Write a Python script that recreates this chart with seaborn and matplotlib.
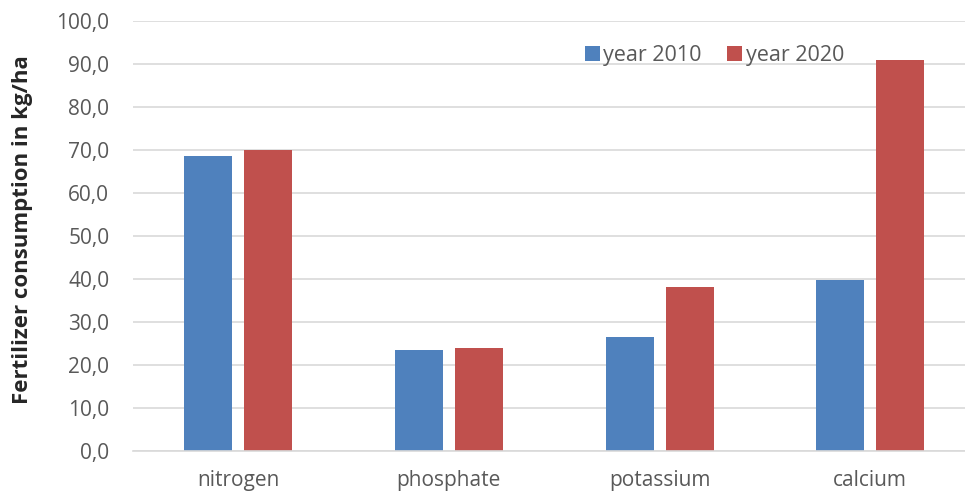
import matplotlib
matplotlib.use("Agg")
import matplotlib.pyplot as plt
import seaborn as sns
import pandas as pd
from matplotlib.ticker import FuncFormatter

categories = ["nitrogen", "phosphate", "potassium", "calcium"]
series_names = ["year 2010", "year 2020"]
values_2010 = [68.6, 23.5, 26.4, 39.8]
values_2020 = [70.0, 24.0, 38.2, 90.8]
yticks = [0, 10, 20, 30, 40, 50, 60, 70, 80, 90, 100]

df = pd.DataFrame({
    "category": categories * 2,
    "series": [series_names[0]] * len(categories) + [series_names[1]] * len(categories),
    "value": values_2010 + values_2020,
})

sns.set_theme(style="white")
plt.rcParams["font.family"] = ["Open Sans", "DejaVu Sans"]

fig = plt.figure(figsize=(9.65, 4.98), dpi=100)
ax = fig.add_axes([0.1378, 0.0944, 0.8622, 0.8636])

palette = {"year 2010": "#4f81bd", "year 2020": "#c0504d"}
sns.barplot(data=df, x="category", y="value", hue="series", order=categories,
            hue_order=series_names, palette=palette, width=0.57, gap=0.2,
            saturation=1, ax=ax, edgecolor="none", zorder=3)

ax.set_ylim(0, 100)
ax.set_xlim(-0.5, 3.45)
ax.set_yticks(yticks)
ax.yaxis.set_major_formatter(FuncFormatter(lambda v, p: f"{v:.1f}".replace(".", ",")))
ax.grid(axis="y", color="#d9d9d9", linewidth=1.2, zorder=0)
ax.grid(axis="x", visible=False)
for s in ["top", "right", "left"]:
    ax.spines[s].set_visible(False)
ax.spines["bottom"].set_color("#d9d9d9")
ax.spines["bottom"].set_linewidth(1.2)
ax.spines["bottom"].set_zorder(4)

ax.tick_params(axis="both", length=0, labelsize=15, labelcolor="#595959")
ax.tick_params(axis="y", pad=17)
ax.tick_params(axis="x", pad=14)
ax.set_xlabel("")
ax.set_ylabel("Fertilizer consumption in kg/ha", fontsize=16, fontweight="bold",
              color="#262626")
ax.yaxis.set_label_coords(-0.12, 0.514)

leg = ax.legend(loc="center left", bbox_to_anchor=(0.543, 0.92), ncol=2, frameon=False,
                fontsize=15.5, handlelength=0.7, handleheight=0.7, handletextpad=0.15,
                columnspacing=1.2, borderaxespad=0, borderpad=0)
for t in leg.get_texts():
    t.set_color("#595959")

fig.savefig("out.png", dpi=100)
